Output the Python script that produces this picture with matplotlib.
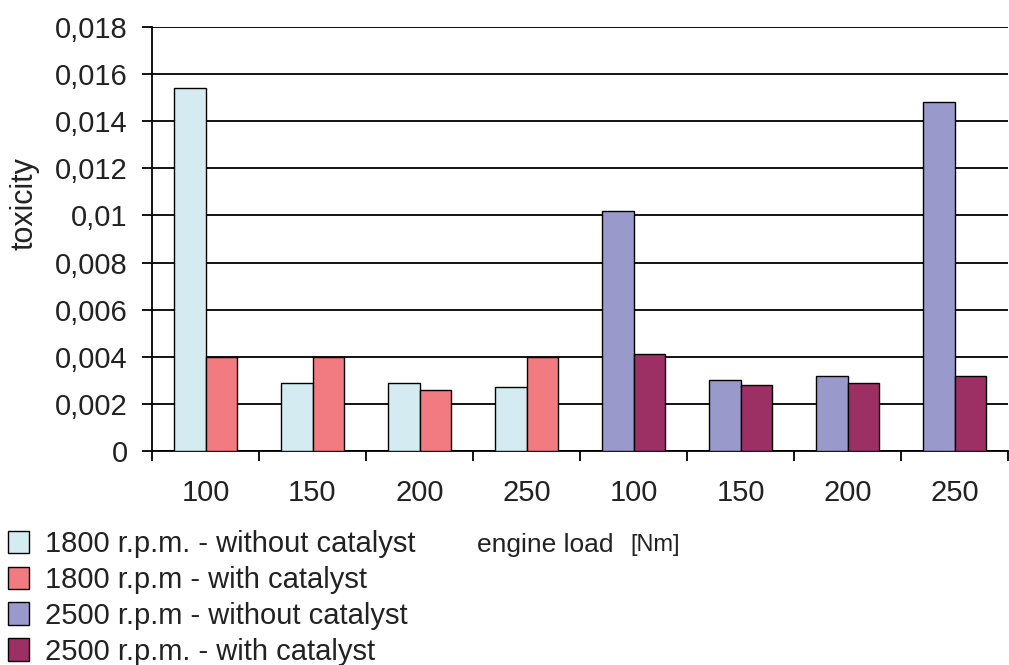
import matplotlib
matplotlib.use("Agg")
import matplotlib.pyplot as plt
from matplotlib.ticker import FixedLocator, FuncFormatter, MultipleLocator
from matplotlib.patches import Patch
import numpy as np

plt.rcParams['font.family'] = ['Liberation Sans', 'DejaVu Sans']

# data
loads = ['100', '150', '200', '250', '100', '150', '200', '250']
rpm1800_without = [0.0154, 0.0029, 0.0029, 0.0027]
rpm1800_with = [0.0040, 0.0040, 0.0026, 0.0040]
rpm2500_without = [0.0102, 0.0030, 0.0032, 0.0148]
rpm2500_with = [0.0041, 0.0028, 0.0029, 0.0032]
series_names = ['1800 r.p.m. - without catalyst', '1800 r.p.m - with catalyst',
                '2500 r.p.m - without catalyst', '2500 r.p.m. - with catalyst']
colors = ['#D4ECF1', '#F27A81', '#9999CC', '#9C3064']

fig = plt.figure(figsize=(10.09, 6.65), dpi=100)
ax = fig.add_axes([152 / 1009, 1 - 451 / 665, 856 / 1009, 424 / 665])

w = 0.29
g1 = np.arange(4) + 0.5
g2 = np.arange(4) + 4.5
bar_kw = dict(width=w, edgecolor='black', linewidth=1.0, zorder=3)
ax.bar(g1 - w / 2, rpm1800_without, color=colors[0], **bar_kw)
ax.bar(g1 + w / 2, rpm1800_with, color=colors[1], **bar_kw)
ax.bar(g2 - w / 2, rpm2500_without, color=colors[2], **bar_kw)
ax.bar(g2 + w / 2, rpm2500_with, color=colors[3], **bar_kw)

ax.set_xlim(0, 8)
ax.set_ylim(0, 0.018)

# gridlines
ax.yaxis.set_major_locator(MultipleLocator(0.002))
ax.yaxis.set_major_formatter(FuncFormatter(lambda v, p: f"{v:g}".replace('.', ',')))
ax.grid(axis='y', color='black', linewidth=1.3, zorder=0)
ax.axhline(0.018, color='#b0b0b0', linewidth=1.3, zorder=1)

ax.spines['top'].set_visible(False)
ax.spines['right'].set_visible(False)
ax.spines['left'].set_linewidth(1.3)
ax.spines['bottom'].set_linewidth(1.3)

ax.xaxis.set_major_locator(FixedLocator(np.arange(0, 9)))
ax.xaxis.set_minor_locator(FixedLocator(np.arange(8) + 0.5))
ax.set_xticklabels([])
ax.set_xticklabels(loads, minor=True)
ax.tick_params(axis='x', which='major', length=7.5, width=1.3, direction='out')
ax.tick_params(axis='x', which='minor', length=0, pad=20, labelsize=21, labelcolor='#222222')
ax.tick_params(axis='y', length=7.5, width=1.3, direction='out', pad=10,
               labelsize=21, labelcolor='#222222')

fig.text(25 / 1009, 1 - 204 / 665, 'toxicity', rotation=90, ha='center', va='center',
         fontsize=22, color='#222222')

handles = [Patch(facecolor=c, edgecolor='black', linewidth=1.0) for c in colors]
fig.legend(handles, series_names, loc='upper left', bbox_to_anchor=(8 / 1009, 1 - 530 / 665),
           frameon=False, fontsize=21, handlelength=0.72, handleheight=0.8,
           handletextpad=0.55, labelspacing=0.27, borderpad=0, borderaxespad=0,
           labelcolor='#222222')

fig.text(477 / 1009, 1 - 545 / 665, 'engine load', ha='left', va='center',
         fontsize=19, color='#222222')
fig.text(630 / 1009, 1 - 545 / 665, '[Nm]', ha='left', va='center',
         fontsize=17, color='#222222')

fig.savefig('out.png', dpi=100)
